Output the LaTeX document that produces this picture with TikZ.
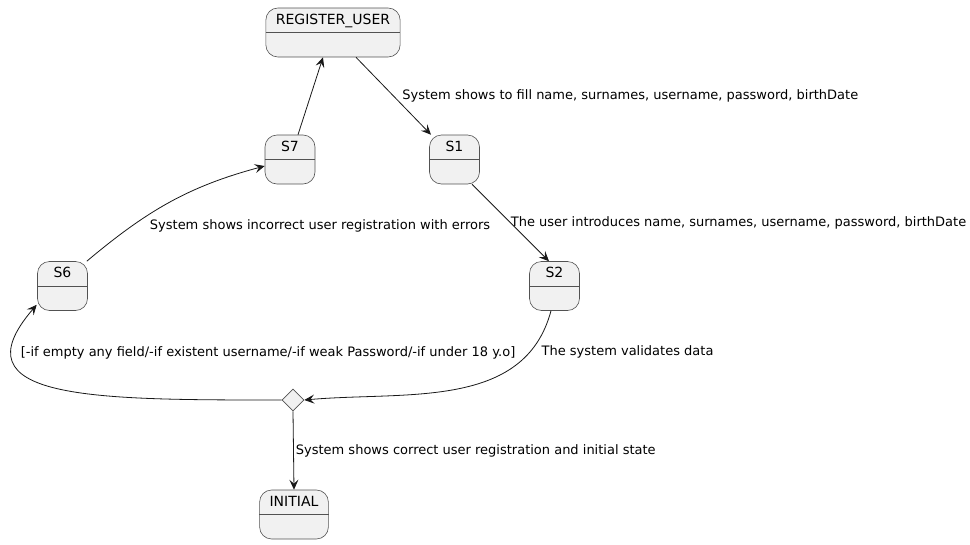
\documentclass[tikz,border=0pt]{standalone}
\usepackage{fontspec}
\setmainfont{DejaVu Sans}
\usetikzlibrary{shapes.geometric,arrows.meta}
\definecolor{statefill}{HTML}{F1F1F1}
\definecolor{stateline}{HTML}{181818}
\begin{document}
\begin{tikzpicture}[
	x=1pt, y=1pt,
	state/.style={
		rectangle,
		rounded corners=12pt,
		draw=stateline!75,
		fill=statefill,
		line width=0.6pt,
		font=\fontsize{14}{16}\selectfont,
		text height=11.7pt,
		text depth=28.3pt,
		minimum width=50pt,
		inner xsep=10pt,
		inner ysep=4.5pt,
	},
	sepline/.style={
		draw=stateline!75,
		line width=0.6pt,
	},
	choice/.style={
		diamond,
		draw=stateline!75,
		fill=statefill,
		line width=0.6pt,
		minimum size=22pt,
		inner sep=0pt,
	},
	ArrowT/.style={% transition arrows
		-{Stealth[length=10pt,width=9pt,inset=4pt]},
		line width=0.8pt,
		draw=stateline,
	},
	lbl/.style={
		font=\fontsize{13}{15}\selectfont,
		inner sep=2pt,
	},
]
	\useasboundingbox (0,0) rectangle (970,-544);

	\node [state] (reg) at (333,-32.5) {REGISTER\_USER};
	\node [state] (s7) at (290,-159.5) {S7};
	\node [state] (s1) at (454.5,-159.5) {S1};
	\node [state] (s6) at (62.5,-286) {S6};
	\node [state] (s2) at (554.5,-286) {S2};
	\node [choice] (check) at (293,-400) {};
	\node [state] (ini) at (294,-514.5) {INITIAL};

	% title / body divider of each state
	\foreach \st in {reg,s7,s1,s6,s2,ini}
		\draw [sepline] ([yshift=-25]\st.north west) -- ([yshift=-25]\st.north east);

	\draw [ArrowT] ([xshift=23]reg.south) -- ([xshift=-23.5]s1.north)
		node [lbl, pos=0.5, anchor=west, xshift=6.5] {System shows to fill name, surnames, username, password, birthDate};
	\draw [ArrowT] ([xshift=8]s7.north) -- ([xshift=-10]reg.south);
	\draw [ArrowT] ([xshift=17.5]s1.south) -- ([xshift=-5.5]s2.north)
		node [lbl, pos=0.5, anchor=west, xshift=-2] {The user introduces name, surnames, username, password, birthDate};
	\draw [ArrowT] ([xshift=-1]s6.north east) to [out=40, in=195]
		node [lbl, pos=0.35, anchor=north west, xshift=2] {System shows incorrect user registration with errors}
		([yshift=-6.5]s7.west);
	\draw [ArrowT] ([xshift=-3.5]s2.south) to [out=-105, in=5]
		node [lbl, pos=0.15, anchor=west, xshift=6, yshift=-4] {The system validates data}
		(check.east);
	\draw [ArrowT] (check.west) .. controls +(-190,0) and +(-82,-95) ..
		node [lbl, pos=0.8, anchor=west, xshift=6, yshift=-2] {[-if empty any field/-if existent username/-if weak Password/-if under 18 y.o]}
		([shift={(-0.5,6)}]s6.south west);
	\draw [ArrowT] (check.south) -- (ini.north)
		node [lbl, pos=0.5, anchor=west] {System shows correct user registration and initial state};
\end{tikzpicture}
\end{document}
